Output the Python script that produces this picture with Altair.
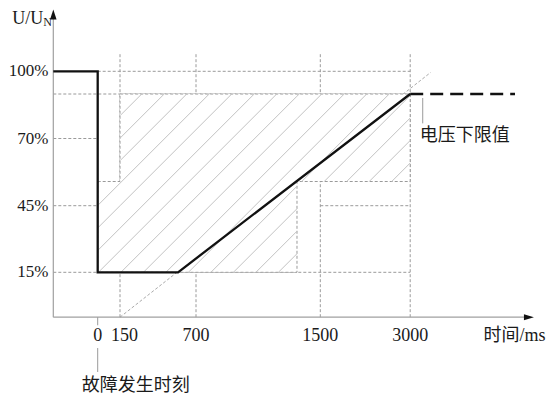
import altair as alt
import numpy as np
import pandas as pd

# ---- schematic (piecewise) axis breakpoints: data value -> drawn position ----
X_DOMAIN = [-300, 0, 150, 700, 1500, 3000, 4500]
X_RANGE = [45.3, 89.7, 112.0, 188.0, 312.3, 402.2, 525.0]
Y_DOMAIN = [0, 15, 45, 70, 90, 100]
Y_RANGE = [309.2, 264.3, 197.7, 130.5, 86.0, 63.3]

# ---- data ----
X_TICKS = [0, 150, 700, 1500, 3000]
X_TICK_LABELS = ["0", "150", "700", "1500", "3000"]
Y_TICKS = [100, 70, 45, 15]
Y_TICK_LABELS = ["100%", "70%", "45%", "15%"]

AXIS_X0 = -300
AXIS_X_END = 4450
AXIS_Y_END = 125

CURVE_X = [-300, 0, 0, 570, 3000]
CURVE_Y = [100, 100, 15, 15, 90]
LIMIT_X = [3000, 4280]
LIMIT_Y = [90, 90]

ZONE_X = [0, 150, 1350, 3000]
ZONE_TOP = [54, 90, 90, 90]
ZONE_BOTTOM = [15, 15, 54, 54]

DIAG_X = [150, 3250]
DIAG_Y = [0, 99.5]

GRID_V_X = [150, 700, 1500, 3000]
GRID_V_TOP = 108
GRID_H_Y = [100, 90, 70, 45, 45, 15]
GRID_H_FROM = [0, -300, -300, -300, 1500, -300]
GRID_H_TO = [3000, 3000, 0, 0, 3000, 3000]

FAULT_X = 0
FAULT_TICK_Y = [0, -2.7]
FAULT_LEADER_Y = [-10.3, -18.3]
FAULT_TEXT_Y = -23
FAULT_TEXT = "故障发生时刻"
LIMIT_LEADER_X = 3153
LIMIT_LEADER_Y = [88.2, 76.8]
LIMIT_TEXT_Y = 71.1
LIMIT_TEXT = "电压下限值"
X_TITLE = "时间/ms"
Y_TITLE = "U/U"
Y_TITLE_SUB = "N"

# ---- styles ----
GRID_COLOR = "#9a9a9a"
HATCH_COLOR = "#c2c2c2"
AXIS_COLOR = "#a0a0a0"
TEXT_COLOR = "#1a1a1a"
SERIF = "Liberation Serif"
CJK = "Liberation Serif, Noto Sans CJK SC"
HATCH_STEP = 22.5
HATCH_PHASE = 219.7

xs = alt.Scale(domain=X_DOMAIN, range=X_RANGE, nice=False, zero=False)
ys = alt.Scale(domain=Y_DOMAIN, range=Y_RANGE, nice=False, zero=False)


def X(f):
    return alt.X(f, type="quantitative", scale=xs, axis=None)


def Y(f):
    return alt.Y(f, type="quantitative", scale=ys, axis=None)


# ---- hatch lines clipped to the zone (computed through the scale mapping) ----
def fx(v):
    return float(np.interp(v, X_DOMAIN, X_RANGE))


def fy(v):
    return float(np.interp(v, Y_DOMAIN, Y_RANGE))


def ix(p):
    return float(np.interp(p, X_RANGE, X_DOMAIN))


def iy(p):
    return float(np.interp(p, Y_RANGE[::-1], Y_DOMAIN[::-1]))


rects = []
for i in range(len(ZONE_X) - 1):
    rects.append((fx(ZONE_X[i]), fx(ZONE_X[i + 1]), fy(ZONE_TOP[i]), fy(ZONE_BOTTOM[i])))
cmin = min(r[0] + r[2] for r in rects)
cmax = max(r[1] + r[3] for r in rects)
k0 = int(np.floor((cmin - HATCH_PHASE) / HATCH_STEP))
k1 = int(np.ceil((cmax - HATCH_PHASE) / HATCH_STEP))
hatch_rows = []
for k in range(k0, k1 + 1):
    c = HATCH_PHASE + k * HATCH_STEP
    for (x0, x1, yt, yb) in rects:
        lo = max(x0, c - yb)
        hi = min(x1, c - yt)
        if hi - lo > 0.3:
            hatch_rows.append(dict(x=ix(lo), y=iy(c - lo), x2=ix(hi), y2=iy(c - hi)))
hatch_df = pd.DataFrame(hatch_rows)

# ---- data frames ----
grid_h = pd.DataFrame({"x": GRID_H_FROM, "x2": GRID_H_TO, "y": GRID_H_Y})
grid_v = pd.DataFrame({"x": GRID_V_X, "y": [0] * len(GRID_V_X), "y2": [GRID_V_TOP] * len(GRID_V_X)})
diag = pd.DataFrame({"x": [DIAG_X[0]], "y": [DIAG_Y[0]], "x2": [DIAG_X[1]], "y2": [DIAG_Y[1]]})
zone = pd.DataFrame({"x": ZONE_X, "y": ZONE_TOP, "y2": ZONE_BOTTOM})
curve = pd.DataFrame({"x": CURVE_X, "y": CURVE_Y, "i": list(range(len(CURVE_X)))})
limit = pd.DataFrame({"x": LIMIT_X, "y": LIMIT_Y})
axes_df = pd.DataFrame({
    "x": [AXIS_X0, AXIS_X0],
    "y": [0, 0],
    "x2": [AXIS_X_END - 10, AXIS_X0],
    "y2": [0, AXIS_Y_END - 2],
})
leaders = pd.DataFrame({
    "x": [FAULT_X, FAULT_X, LIMIT_LEADER_X],
    "y": [FAULT_TICK_Y[0], FAULT_LEADER_Y[0], LIMIT_LEADER_Y[0]],
    "x2": [FAULT_X, FAULT_X, LIMIT_LEADER_X],
    "y2": [FAULT_TICK_Y[1], FAULT_LEADER_Y[1], LIMIT_LEADER_Y[1]],
})
xtick_df = pd.DataFrame({"x": X_TICKS, "y": [0] * len(X_TICKS), "t": X_TICK_LABELS})
ytick_df = pd.DataFrame({"x": [AXIS_X0] * len(Y_TICKS), "y": Y_TICKS, "t": Y_TICK_LABELS})

grid_h_layer = alt.Chart(grid_h).mark_rule(color=GRID_COLOR, strokeWidth=1, strokeDash=[3, 2]).encode(
    x=X("x"), x2="x2", y=Y("y"))
grid_v_layer = alt.Chart(grid_v).mark_rule(color=GRID_COLOR, strokeWidth=1, strokeDash=[3, 2]).encode(
    x=X("x"), y=Y("y"), y2="y2")
diag_layer = alt.Chart(diag).mark_rule(color="#aaaaaa", strokeWidth=1, strokeDash=[3, 2]).encode(
    x=X("x"), y=Y("y"), x2="x2", y2="y2")
zone_layer = alt.Chart(zone).mark_area(
    fill="white", stroke=GRID_COLOR, strokeWidth=1, strokeDash=[3, 2],
    interpolate="step-after", opacity=1).encode(x=X("x"), y=Y("y"), y2="y2")
hatch_layer = alt.Chart(hatch_df).mark_rule(color=HATCH_COLOR, strokeWidth=1).encode(
    x=X("x"), y=Y("y"), x2="x2", y2="y2")
axes_layer = alt.Chart(axes_df).mark_rule(color=AXIS_COLOR, strokeWidth=1.2).encode(
    x=X("x"), y=Y("y"), x2="x2", y2="y2")
leader_layer = alt.Chart(leaders).mark_rule(color="#9a9a9a", strokeWidth=1).encode(
    x=X("x"), y=Y("y"), x2="x2", y2="y2")
curve_layer = alt.Chart(curve).mark_line(color="#111111", strokeWidth=2.3, strokeJoin="miter").encode(
    x=X("x"), y=Y("y"), order="i:Q")
limit_layer = alt.Chart(limit).mark_line(color="#111111", strokeWidth=2.3, strokeDash=[13, 7]).encode(
    x=X("x"), y=Y("y"))
arrow_x = alt.Chart(pd.DataFrame({"x": [AXIS_X_END], "y": [0]})).mark_point(
    shape="M1,0L-1,-0.6L-1,0.6Z", size=100, filled=True, color="#111111", opacity=1, strokeWidth=0).encode(
    x=X("x"), y=Y("y"))
arrow_y = alt.Chart(pd.DataFrame({"x": [AXIS_X0], "y": [AXIS_Y_END]})).mark_point(
    shape="M0,-1L-0.65,1L0.65,1Z", size=100, filled=True, color="#111111", opacity=1, strokeWidth=0).encode(
    x=X("x"), y=Y("y"))
xtick_text = alt.Chart(xtick_df).transform_filter("datum.t != '150'").mark_text(
    font=SERIF, fontSize=18, color=TEXT_COLOR, align="center", baseline="middle", dy=18.3).encode(
    x=X("x"), y=Y("y"), text="t:N")
xtick_text_150 = alt.Chart(xtick_df).transform_filter("datum.t == '150'").mark_text(
    font=SERIF, fontSize=18, color=TEXT_COLOR, align="center", baseline="middle", dx=4.5, dy=18.3).encode(
    x=X("x"), y=Y("y"), text="t:N")
ytick_text = alt.Chart(ytick_df).mark_text(
    font=SERIF, fontSize=17, color=TEXT_COLOR, align="right", baseline="middle", dx=-5).encode(
    x=X("x"), y=Y("y"), text="t:N")
xtitle = alt.Chart(pd.DataFrame({"x": [AXIS_X_END], "y": [0], "t": [X_TITLE]})).mark_text(
    font=CJK, fontSize=18, color=TEXT_COLOR, align="right", baseline="middle", dx=16.5, dy=19).encode(
    x=X("x"), y=Y("y"), text="t:N")
ytitle = alt.Chart(pd.DataFrame({"x": [AXIS_X0], "y": [AXIS_Y_END], "t": [Y_TITLE]})).mark_text(
    font=SERIF, fontSize=18, color=TEXT_COLOR, align="right", baseline="alphabetic", dx=-10, dy=9).encode(
    x=X("x"), y=Y("y"), text="t:N")
ytitle_sub = alt.Chart(pd.DataFrame({"x": [AXIS_X0], "y": [AXIS_Y_END], "t": [Y_TITLE_SUB]})).mark_text(
    font=SERIF, fontSize=12, color=TEXT_COLOR, align="left", baseline="alphabetic", dx=-10, dy=11).encode(
    x=X("x"), y=Y("y"), text="t:N")
fault_text = alt.Chart(pd.DataFrame({"x": [FAULT_X], "y": [FAULT_TEXT_Y], "t": [FAULT_TEXT]})).mark_text(
    font=CJK, fontSize=18, color=TEXT_COLOR, align="left", baseline="middle", dx=-16).encode(
    x=X("x"), y=Y("y"), text="t:N")
limit_text = alt.Chart(pd.DataFrame({"x": [LIMIT_LEADER_X], "y": [LIMIT_TEXT_Y], "t": [LIMIT_TEXT]})).mark_text(
    font=CJK, fontSize=18, color=TEXT_COLOR, align="left", baseline="middle", dx=-3).encode(
    x=X("x"), y=Y("y"), text="t:N")

chart = alt.layer(
    grid_h_layer, grid_v_layer, diag_layer, zone_layer, hatch_layer,
    axes_layer, leader_layer, curve_layer, limit_layer, arrow_x, arrow_y,
    xtick_text, xtick_text_150, ytick_text, xtitle, ytitle, ytitle_sub, fault_text, limit_text,
).properties(
    width=538, height=389,
    autosize=alt.AutoSizeParams(type="none"),
    padding={"left": 0, "top": 0, "right": 0, "bottom": 0},
    background="white",
).configure_view(stroke="transparent")

chart.save("out.html", embed_options={"renderer": "svg", "actions": False})
